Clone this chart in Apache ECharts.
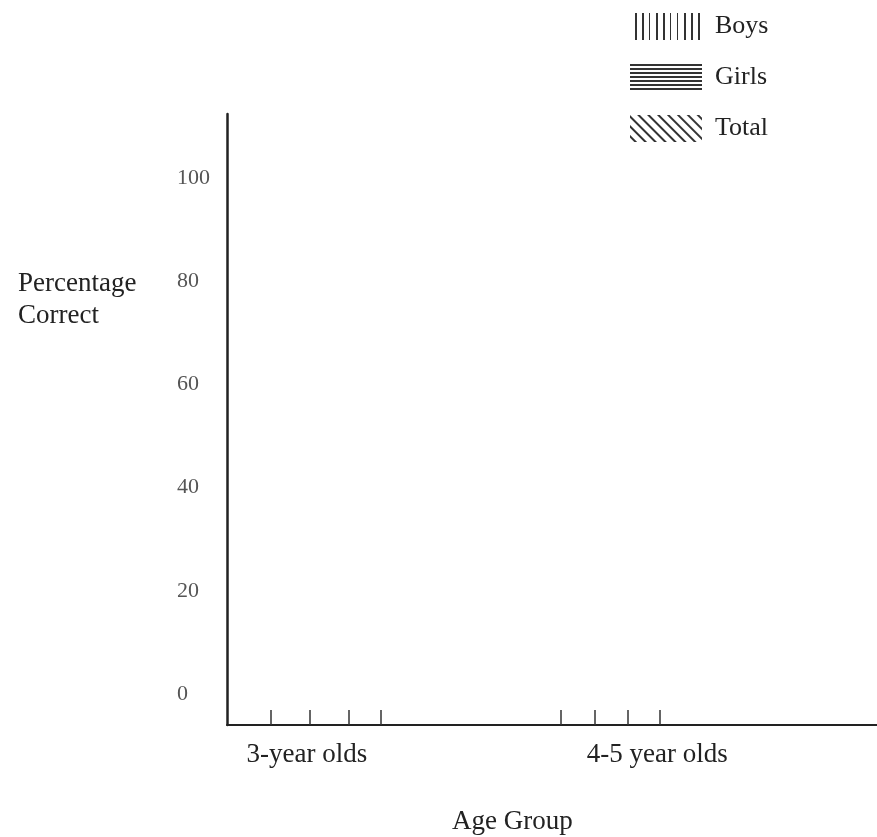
<!DOCTYPE html>
<html>
<head>
<meta charset="utf-8">
<script src="https://cdn.jsdelivr.net/npm/echarts@6/dist/echarts.min.js"></script>
<style>
  html, body { margin: 0; padding: 0; background: #fff; }
  #chart { width: 877px; height: 837px; }
</style>
</head>
<body>
<div id="chart"></div>
<script>
// ---- data ----
const categories = ['3-year olds', '4-5 year olds'];
const seriesNames = ['Boys', 'Girls', 'Total'];
// The reference is a blank template: no bars were drawn for any group.
const boys = [null, null];
const girls = [null, null];
const total = [null, null];
const yTickLabels = [0, 20, 40, 60, 80, 100];

// ---- layout (positions along the x axis, percent of its length) ----
const catLabelPos = [12.3, 66.2];
const handTickPos = [6.8, 12.7, 18.8, 23.7, 51.3, 56.5, 61.7, 66.5];

const FONT = 'Liberation Serif';
const chart = echarts.init(document.getElementById('chart'), null, { renderer: 'canvas' });

function decal(rot, gap) {
  return {
    symbol: 'rect', symbolSize: 1, dashArrayX: [1, 0], dashArrayY: [2, gap],
    rotation: rot, color: '#333', backgroundColor: '#fff'
  };
}
const decals = [decal(Math.PI / 2, 5), decal(0, 2), decal(Math.PI / 4, 5)];
const values = [boys, girls, total];

const option = {
  backgroundColor: '#fff',
  animation: false,
  title: [
    { text: 'Percentage\nCorrect', left: 13, top: 263,
      textStyle: { fontFamily: FONT, fontSize: 27, fontWeight: 'normal', color: '#222', lineHeight: 32 } },
    { text: 'Age Group', left: 447, top: 803,
      textStyle: { fontFamily: FONT, fontSize: 27, fontWeight: 'normal', color: '#222' } }
  ],
  legend: {
    orient: 'vertical', left: 625, top: 8,
    icon: 'rect', itemWidth: 72, itemHeight: 27, itemGap: 24,
    textStyle: { fontFamily: FONT, fontSize: 26, color: '#222', padding: [0, 0, 4, 8] },
    data: seriesNames
  },
  grid: { left: 227, right: 0, top: 114, bottom: 112, containLabel: false },
  xAxis: [
    {
      type: 'value', min: 0, max: 100,
      axisLine: { show: true, onZero: false, lineStyle: { color: '#222', width: 2 } },
      splitLine: { show: false },
      axisTick: { show: true, inside: true, length: 15, customValues: handTickPos,
                  lineStyle: { color: '#333', width: 1.5 } },
      axisLabel: {
        customValues: catLabelPos, margin: 16,
        fontFamily: FONT, fontSize: 27, color: '#222',
        formatter: function (v) { return categories[catLabelPos.indexOf(v)]; }
      }
    },
    { type: 'category', data: categories, show: false }
  ],
  yAxis: {
    type: 'value', min: -6, max: 112.4,
    axisLine: { show: true, onZero: false, lineStyle: { color: '#222', width: 2.5 } },
    axisTick: { show: false },
    splitLine: { show: false },
    axisLabel: { customValues: yTickLabels, align: 'left', margin: 50,
                 fontFamily: FONT, fontSize: 22, color: '#555' }
  },
  series: seriesNames.map((name, i) => ({
    name: name, type: 'bar', xAxisIndex: 1,
    data: values[i],
    itemStyle: { color: '#fff', decal: decals[i] }
  }))
};
chart.setOption(option);
</script>
</body>
</html>
